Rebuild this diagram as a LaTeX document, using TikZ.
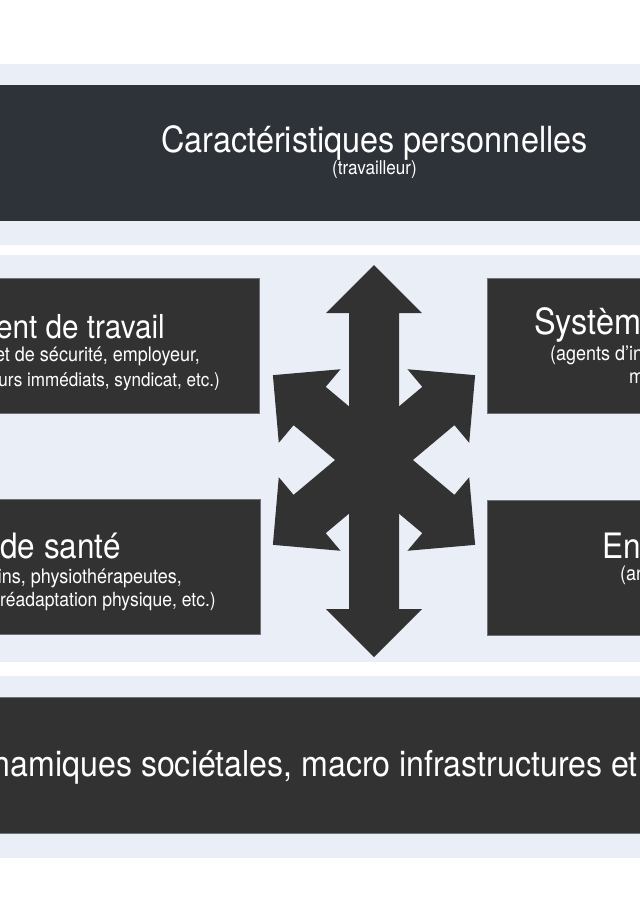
\documentclass[tikz,border=0pt]{standalone}
\usepackage{fontspec}
\setmainfont{TeX Gyre Heros}[FakeStretch=0.9]
\usetikzlibrary{positioning}
\definecolor{slatebox}{RGB}{46,51,58}
\definecolor{darkbox}{RGB}{50,50,50}
\definecolor{paleband}{RGB}{233,238,247}
\definecolor{edgegray}{RGB}{110,112,116}

\begin{document}
\begin{tikzpicture}[x=1pt, y=-1pt,
    band/.style={fill=paleband},
    panel/.style={fill=darkbox, draw=edgegray, line width=0.5pt},
    bigtitle/.style={text=white, inner sep=0pt, font=\fontsize{#1}{#1}\selectfont},
    bigtitle/.default=36,
    boxtitle/.style={text=white, inner sep=0pt, font=\fontsize{#1}{#1}\selectfont},
    boxtitle/.default=35,
    subline/.style={text=white, inner sep=0pt, font=\fontsize{#1}{#1}\selectfont},
    subline/.default=20,
    arrowfill/.style={fill=darkbox}]
    \useasboundingbox (0,0) rectangle (640,914);
    \clip (0,0) rectangle (640,914);
    \fill[white] (0,0) rectangle (640,914);

    % Worker band
    \fill[band] (0,64) rectangle (640,245);
    \fill[slatebox] (0,85) rectangle (640,221);
    \node[bigtitle, anchor=base] (worker) at (374.5,152) {Caractéristiques personnelles};
    \node[subline=19, anchor=base] (workersub) at (374.5,174) {(travailleur)};

    % Middle band with the four actors
    \fill[band] (0,255) rectangle (640,662);
    \draw[panel] (-2,278) rectangle (259,413);
    \draw[panel] (487,278) rectangle (642,413);
    \draw[panel] (-2,499) rectangle (260,634);
    \draw[panel] (487,500) rectangle (642,635);

    % Workplace
    \node[boxtitle=33, anchor=base east] (work) at (165,338) {ent de travail};
    \node[subline, anchor=base east] (worka) at (200,361) {et de sécurité, employeur,};
    \node[subline=19, anchor=base east] (workb) at (220,386) {urs immédiats, syndicat, etc.)};

    % Health care
    \node[boxtitle, anchor=base east] (care) at (121,558) {de santé};
    \node[subline, anchor=base east] (carea) at (182,583) {cins, physiothérapeutes,};
    \node[subline=19.5, anchor=base east] (careb) at (216,606) {réadaptation physique, etc.)};

    % Insurance system
    \node[boxtitle=36, anchor=base west] (insur) at (534,334) {Systèm};
    \node[subline, anchor=base west] (insura) at (550,360) {(agents d’in};
    \node[subline, anchor=base west] (insurb) at (629,383) {m};

    % Right lower box
    \node[boxtitle, anchor=base west] (env) at (602,558) {En};
    \node[subline, anchor=base west] (enva) at (620,580) {(an};

    % Six-way arrow
    \coordinate (hub) at (374,460);
    \foreach \ang/\len in {90/195, 270/197, 140/132, 220/132, 40/132, 320/132}
        \fill[arrowfill, shift={(hub)}, rotate=\ang]
            (0,-25) -- ({\len-48},-25) -- ({\len-48},-48) -- (\len,0)
            -- ({\len-48},48) -- ({\len-48},25) -- (0,25) -- cycle;

    % Society band
    \fill[band] (0,676) rectangle (640,858);
    \draw[panel] (-2,697) rectangle (642,833);
    \node[bigtitle=35.7, anchor=base east] (society) at (638,776) {ynamiques sociétales, macro infrastructures et};
\end{tikzpicture}
\end{document}
